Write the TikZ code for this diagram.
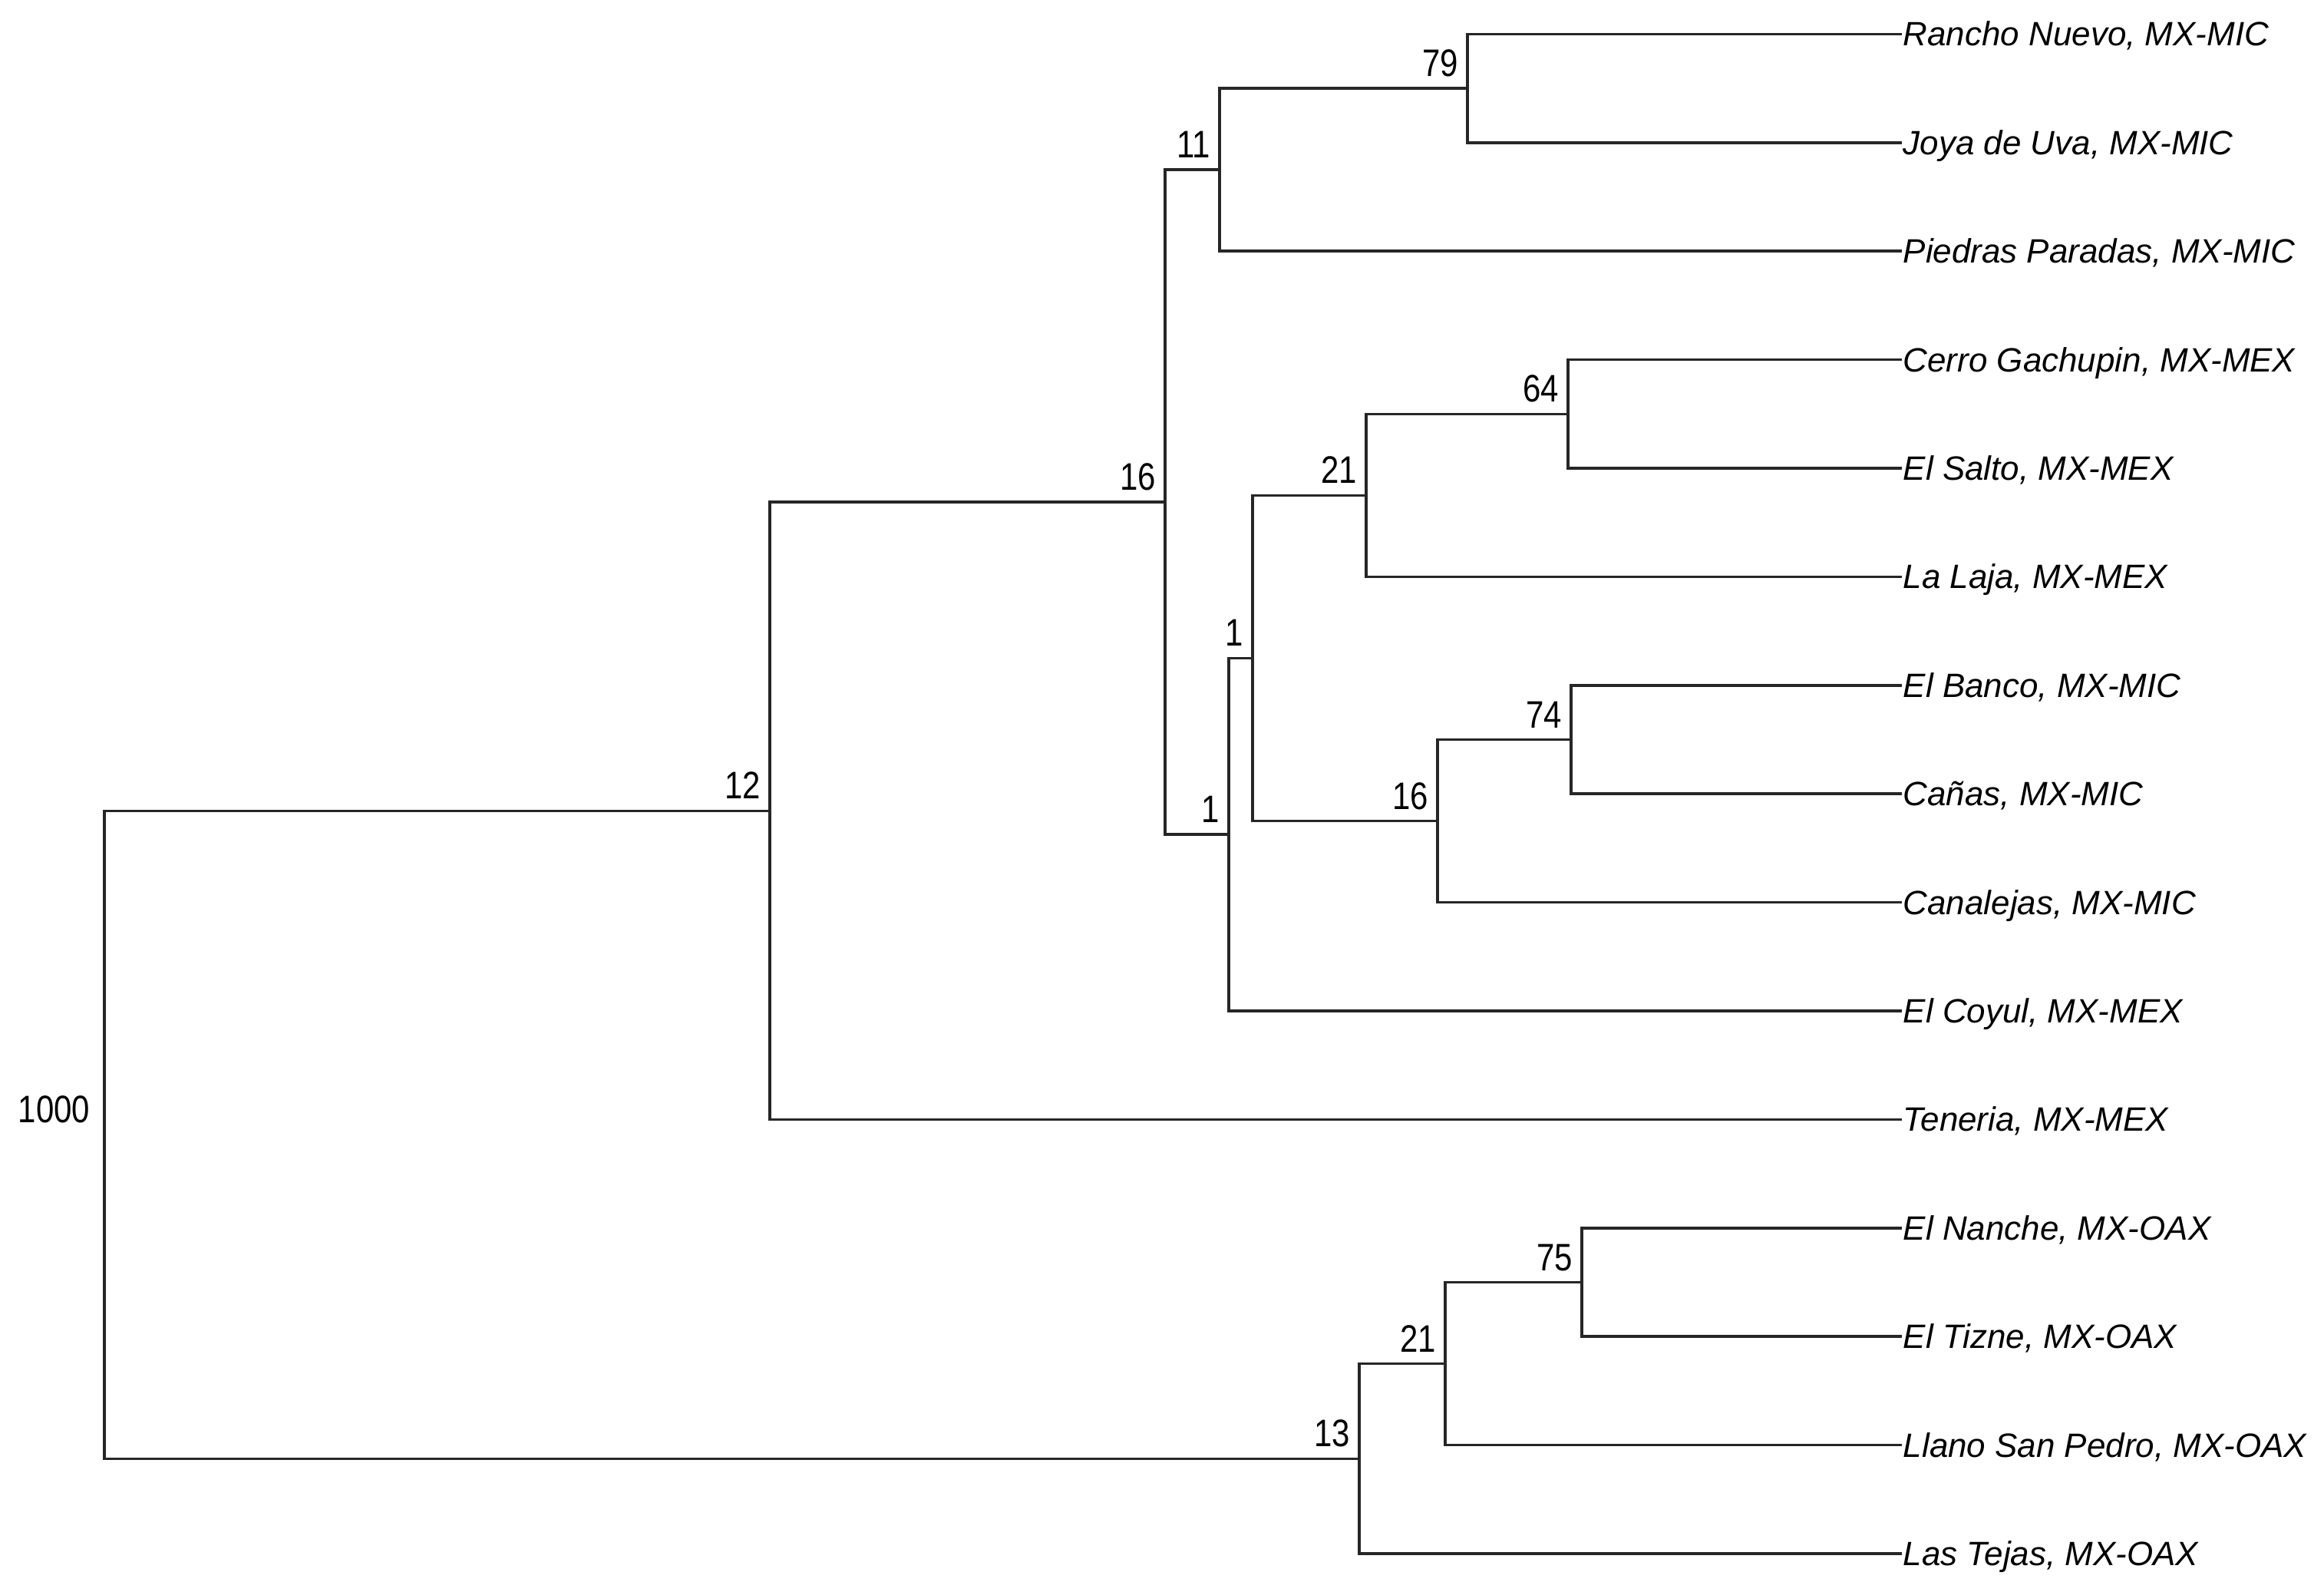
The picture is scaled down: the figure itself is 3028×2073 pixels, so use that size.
\documentclass[tikz,border=0pt]{standalone}
\usepackage{fontspec}
\setmainfont{Liberation Sans}
\newfontfamily\bootfont[FakeStretch=0.84]{Liberation Sans}
\usepackage{tikz}

\begin{document}
\begin{tikzpicture}[x=0.01cm, y=-0.01cm,
        branch/.style={draw=black!85, line width=1pt},
        tip/.style={anchor=base west, inner sep=0pt, xshift=0.3pt, yshift=-4.4pt,
            font=\fontsize{12.5}{14}\selectfont\itshape},
        boot/.style={anchor=base east, inner sep=0pt, xshift=-3.2pt, yshift=4.4pt,
            font=\bootfont\fontsize{14.2}{16}\selectfont}]
        \useasboundingbox (0, 0) rectangle (3028, 2073);

        \coordinate (rancho) at (2478, 44.4);
        \coordinate (joya) at (2478, 185.8);
        \coordinate (piedras) at (2478, 327.2);
        \coordinate (cerro) at (2478, 468.6);
        \coordinate (salto) at (2478, 610);
        \coordinate (laja) at (2478, 751.4);
        \coordinate (banco) at (2478, 892.8);
        \coordinate (canas) at (2478, 1034.2);
        \coordinate (canalejas) at (2478, 1175.6);
        \coordinate (coyul) at (2478, 1317);
        \coordinate (teneria) at (2478, 1458.4);
        \coordinate (nanche) at (2478, 1599.8);
        \coordinate (tizne) at (2478, 1741.2);
        \coordinate (llano) at (2478, 1882.6);
        \coordinate (tejas) at (2478, 2024);

        \coordinate (b79) at (1912, 115.1);
        \coordinate (b11) at (1589, 221.15);
        \coordinate (b64) at (2043, 539.3);
        \coordinate (b21a) at (1780, 645.35);
        \coordinate (b74) at (2047, 963.5);
        \coordinate (b16b) at (1873, 1069.55);
        \coordinate (b1a) at (1632, 857.45);
        \coordinate (b1b) at (1601, 1087.2);
        \coordinate (b16a) at (1518, 654.2);
        \coordinate (b12) at (1003, 1056.3);
        \coordinate (b75) at (2061, 1670.5);
        \coordinate (b21b) at (1883, 1776.55);
        \coordinate (b13) at (1771, 1900.3);
        \coordinate (root) at (136, 1478.3);

        \draw[branch] (root) |- (b12);
        \draw[branch] (root) |- (b13);
        \draw[branch] (b12) |- (b16a);
        \draw[branch] (b12) |- (teneria);
        \draw[branch] (b16a) |- (b11);
        \draw[branch] (b16a) |- (b1b);
        \draw[branch] (b11) |- (b79);
        \draw[branch] (b11) |- (piedras);
        \draw[branch] (b79) |- (rancho);
        \draw[branch] (b79) |- (joya);
        \draw[branch] (b1b) |- (b1a);
        \draw[branch] (b1b) |- (coyul);
        \draw[branch] (b1a) |- (b21a);
        \draw[branch] (b1a) |- (b16b);
        \draw[branch] (b21a) |- (b64);
        \draw[branch] (b21a) |- (laja);
        \draw[branch] (b64) |- (cerro);
        \draw[branch] (b64) |- (salto);
        \draw[branch] (b16b) |- (b74);
        \draw[branch] (b16b) |- (canalejas);
        \draw[branch] (b74) |- (banco);
        \draw[branch] (b74) |- (canas);
        \draw[branch] (b13) |- (b21b);
        \draw[branch] (b13) |- (tejas);
        \draw[branch] (b21b) |- (b75);
        \draw[branch] (b21b) |- (llano);
        \draw[branch] (b75) |- (nanche);
        \draw[branch] (b75) |- (tizne);

        \node[tip] (trancho) at (rancho) {Rancho Nuevo, MX-MIC};
        \node[tip] (tjoya) at (joya) {Joya de Uva, MX-MIC};
        \node[tip] (tpiedras) at (piedras) {Piedras Paradas, MX-MIC};
        \node[tip] (tcerro) at (cerro) {Cerro Gachupin, MX-MEX};
        \node[tip] (tsalto) at (salto) {El Salto, MX-MEX};
        \node[tip] (tlaja) at (laja) {La Laja, MX-MEX};
        \node[tip] (tbanco) at (banco) {El Banco, MX-MIC};
        \node[tip] (tcanas) at (canas) {Cañas, MX-MIC};
        \node[tip] (tcanalejas) at (canalejas) {Canalejas, MX-MIC};
        \node[tip] (tcoyul) at (coyul) {El Coyul, MX-MEX};
        \node[tip] (tteneria) at (teneria) {Teneria, MX-MEX};
        \node[tip] (tnanche) at (nanche) {El Nanche, MX-OAX};
        \node[tip] (ttizne) at (tizne) {El Tizne, MX-OAX};
        \node[tip] (tllano) at (llano) {Llano San Pedro, MX-OAX};
        \node[tip] (ttejas) at (tejas) {Las Tejas, MX-OAX};

        \node[boot] (l79) at (b79) {79};
        \node[boot] (l11) at (b11) {11};
        \node[boot] (l64) at (b64) {64};
        \node[boot] (l21a) at (b21a) {21};
        \node[boot] (l74) at (b74) {74};
        \node[boot] (l16b) at (b16b) {16};
        \node[boot] (l1a) at (b1a) {1};
        \node[boot] (l1b) at (b1b) {1};
        \node[boot] (l16a) at (b16a) {16};
        \node[boot] (l12) at (b12) {12};
        \node[boot] (l75) at (b75) {75};
        \node[boot] (l21b) at (b21b) {21};
        \node[boot] (l13) at (b13) {13};
        \node[boot, xshift=-2pt] (lroot) at (root) {1000};
\end{tikzpicture}
\end{document}
